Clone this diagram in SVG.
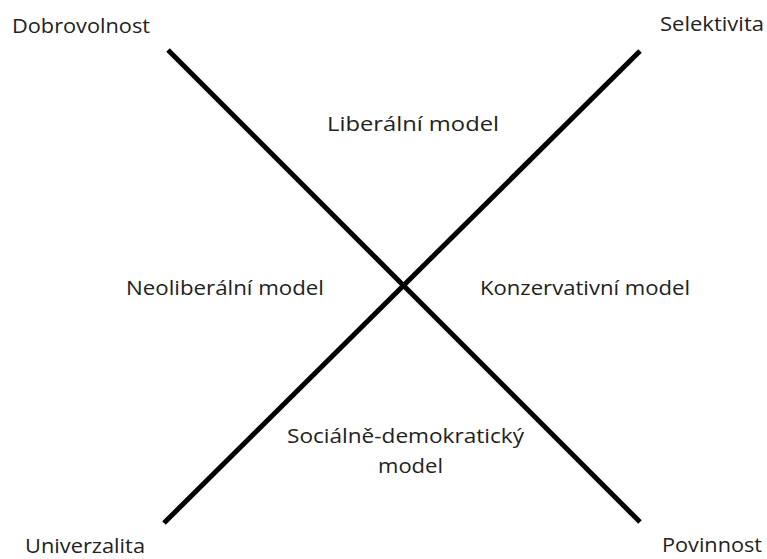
<svg xmlns="http://www.w3.org/2000/svg" width="767" height="559" viewBox="0 0 767 559">
<style>
text{font-family:"Open Sans","Liberation Sans",sans-serif;font-size:20px;fill:#222}
.ln{stroke:#000;stroke-width:5;stroke-linecap:butt;fill:none}
</style>
<rect width="767" height="559" fill="#fff"/>
<g id="connectors">
<line class="ln" x1="168" y1="50" x2="640" y2="522"/>
<line class="ln" x1="640" y1="51" x2="164" y2="523"/>
</g>
<g id="dobrovolnost"><text x="12" y="33" textLength="138" lengthAdjust="spacingAndGlyphs">Dobrovolnost</text></g>
<g id="selektivita"><text x="660" y="31" textLength="104" lengthAdjust="spacingAndGlyphs">Selektivita</text></g>
<g id="univerzalita"><text x="25" y="553" textLength="120" lengthAdjust="spacingAndGlyphs">Univerzalita</text></g>
<g id="povinnost"><text x="662" y="552" textLength="100" lengthAdjust="spacingAndGlyphs">Povinnost</text></g>
<g id="liberalni"><text x="327" y="131" textLength="172" lengthAdjust="spacingAndGlyphs">Liberální model</text></g>
<g id="neoliberalni"><text x="126" y="295" textLength="198" lengthAdjust="spacingAndGlyphs">Neoliberální model</text></g>
<g id="konzervativni"><text x="480" y="295" textLength="210" lengthAdjust="spacingAndGlyphs">Konzervativní model</text></g>
<g id="socialne"><text x="287" y="443" textLength="237" lengthAdjust="spacingAndGlyphs">Sociálně-demokratický</text><text x="378" y="473" textLength="65" lengthAdjust="spacingAndGlyphs">model</text></g>
</svg>
